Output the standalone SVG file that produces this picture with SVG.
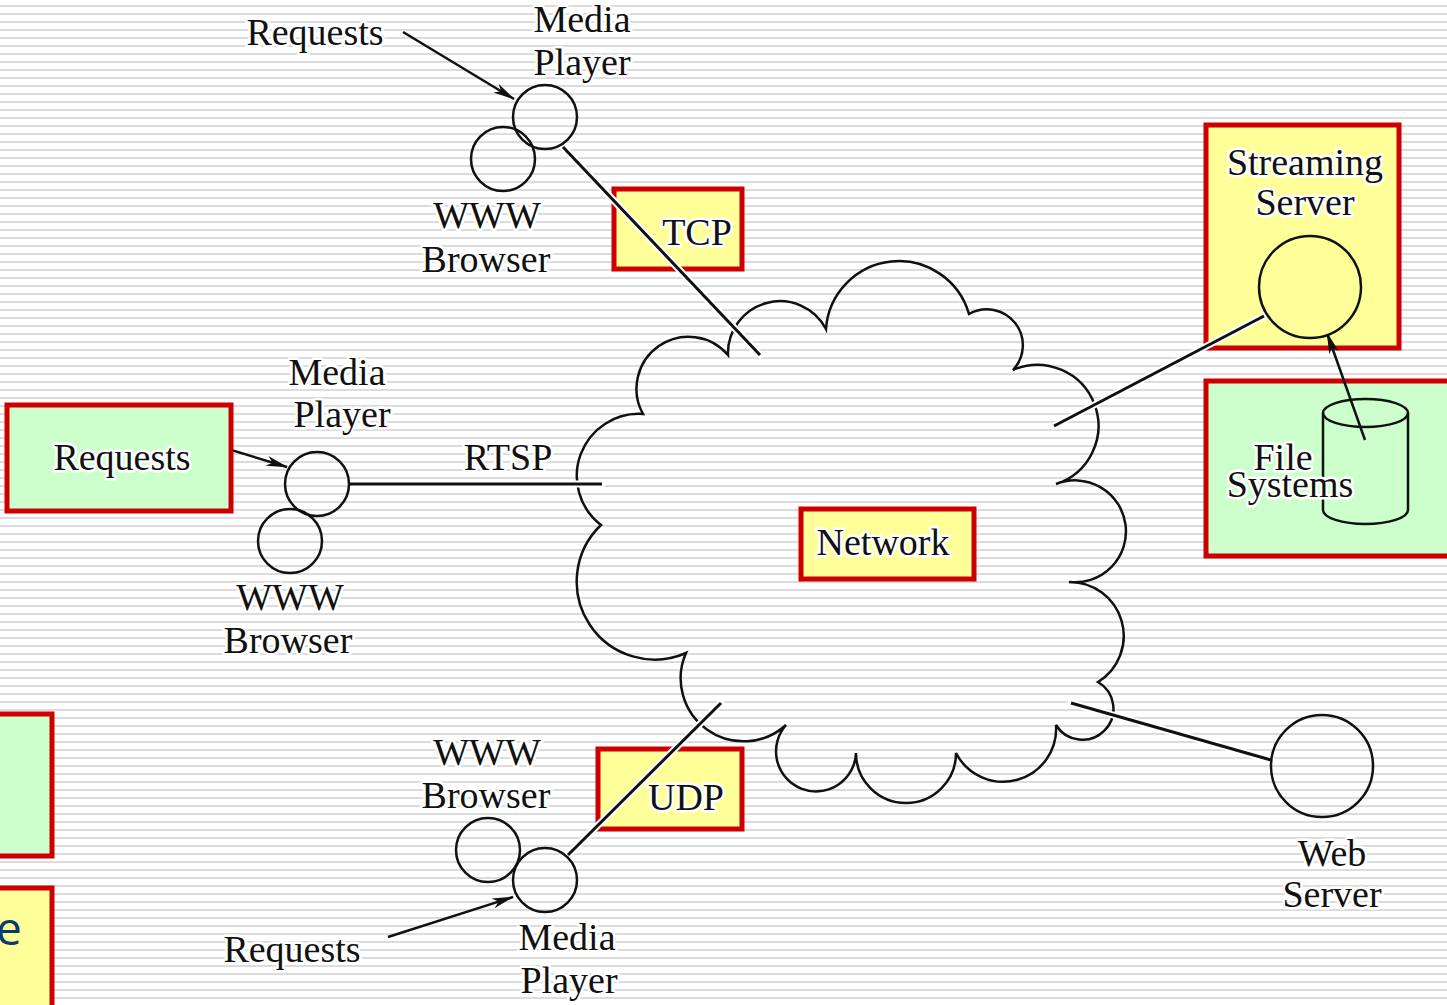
<svg xmlns="http://www.w3.org/2000/svg" width="1447" height="1005" viewBox="0 0 1447 1005">
  <defs>
    <pattern id="stripes" width="8" height="8" patternUnits="userSpaceOnUse">
      <rect width="8" height="8" fill="#ffffff"/>
      <rect y="5" width="8" height="2" fill="#dcdcdc"/>
    </pattern>
    <marker id="arrow" markerUnits="userSpaceOnUse" markerWidth="24" markerHeight="12" refX="21" refY="5" orient="auto">
      <path d="M0,0 L22,5 L0,10 L6,5 z" fill="#111"/>
    </marker>
    <style>
      text { font-family: "Liberation Serif", "Times New Roman", serif; font-size: 38px; fill: #111; text-anchor: middle; stroke: #fff; stroke-width: 5px; paint-order: stroke; stroke-linejoin: round; }
      .box-y { fill: #ffff99; stroke: #cc0000; stroke-width: 5; }
      .box-g { fill: #ccffcc; stroke: #cc0000; stroke-width: 5; }
      .node { fill: none; stroke: #111; stroke-width: 2.5; }
      .halo { fill: none; stroke: #fff; stroke-width: 7; stroke-linecap: round; }
      .link { fill: none; stroke: #111; stroke-width: 3; }
      .req { fill: none; stroke: #111; stroke-width: 2.5; marker-end: url(#arrow); }
      .slide { font-family: "Open Sans", "Liberation Sans", sans-serif; font-size: 46px; fill: #0b3a6e; stroke: none; text-anchor: start; }
    </style>
  </defs>

  <!-- striped page background -->
  <rect width="1447" height="1005" fill="url(#stripes)"/>

  <!-- clipped side boxes at the left edge -->
  <g id="side-green">
    <rect class="box-g" x="-10" y="714" width="62" height="142"/>
  </g>
  <g id="side-yellow">
    <rect class="box-y" x="-10" y="888" width="62" height="130"/>
    <text class="slide" x="-4" y="945">e</text>
  </g>

  <!-- network cloud -->
  <g id="network">
    <path class="node" stroke-width="2.2" d="M728,355 A52,52 0 0 1 826,329 A73,73 0 0 1 969,314 A36,36 0 0 1 1013,370 A61,61 0 1 1 1056,484 A51,51 0 1 1 1069,582 A54,54 0 0 1 1098,682 A31,31 0 1 1 1056,725 A53,53 0 0 1 956,753 A50,50 0 1 1 856,753 A40,40 0 1 1 786,725 A63,63 0 0 1 686,653 A78,78 0 0 1 601,525 A62,62 0 0 1 643,414 A52,52 0 0 1 728,355 Z"/>
    <rect class="box-y" x="801" y="509" width="173" height="70"/>
    <text x="883" y="555">Network</text>
  </g>

  <!-- protocol labels -->
  <g id="tcp">
    <rect class="box-y" x="614" y="189" width="128" height="80"/>
    <text x="697" y="245">TCP</text>
  </g>
  <g id="udp">
    <rect class="box-y" x="598" y="749" width="144" height="80"/>
    <text x="686" y="810">UDP</text>
  </g>
  <g id="rtsp">
    <text x="508" y="470">RTSP</text>
  </g>

  <!-- streaming server and file store -->
  <g id="streaming-server">
    <rect class="box-y" x="1206" y="125" width="193" height="223"/>
    <text x="1305" y="175">Streaming</text>
    <text x="1305" y="215">Server</text>
  </g>
  <g id="file-systems">
    <rect class="box-g" x="1206" y="381" width="250" height="175"/>
    <path class="node" d="M1323,413 L1323,510 A42.5,14 0 0 0 1408,510 L1408,413"/>
    <ellipse class="node" cx="1365.5" cy="413" rx="42.5" ry="14"/>
    <text x="1283" y="470">File</text>
    <text x="1290" y="497">Systems</text>
  </g>

  <!-- connectors -->
  <g id="connectors">
    <line class="halo" x1="563" y1="147" x2="760" y2="355"/>
    <line class="link" x1="563" y1="147" x2="760" y2="355"/>
    <line class="halo" x1="350" y1="484" x2="602" y2="484"/>
    <line class="link" x1="350" y1="484" x2="602" y2="484"/>
    <line class="halo" x1="568" y1="855" x2="721" y2="703"/>
    <line class="link" x1="568" y1="855" x2="721" y2="703"/>
    <line class="halo" x1="1054" y1="426" x2="1264" y2="316"/>
    <line class="link" x1="1054" y1="426" x2="1264" y2="316"/>
    <line class="halo" x1="1071" y1="703" x2="1271" y2="760"/>
    <line class="link" x1="1071" y1="703" x2="1271" y2="760"/>
    <line class="req" x1="403" y1="32" x2="514" y2="99"/>
    <line class="req" x1="205" y1="442" x2="287" y2="467"/>
    <line class="req" x1="388" y1="937" x2="513" y2="897"/>
    <line class="req" x1="1365" y1="440" x2="1327" y2="333"/>
  </g>

  <!-- streaming server disc drawn over its link -->
  <g id="streaming-disc">
    <circle cx="1310" cy="287" r="51" fill="#ffff99" stroke="#111" stroke-width="2.5"/>
  </g>

  <!-- top client -->
  <g id="client-top">
    <text x="315" y="45">Requests</text>
    <circle class="node" cx="503" cy="159" r="32"/>
    <circle class="node" cx="545" cy="117" r="32"/>
    <text x="582" y="32">Media</text>
    <text x="582" y="75">Player</text>
    <text x="487" y="228">WWW</text>
    <text x="486" y="272">Browser</text>
  </g>

  <!-- left client -->
  <g id="client-left">
    <rect class="box-g" x="7" y="405" width="224" height="106"/>
    <text x="122" y="470">Requests</text>
    <circle class="node" cx="290" cy="541" r="32"/>
    <circle class="node" cx="317" cy="484" r="32"/>
    <text x="337" y="385">Media</text>
    <text x="342" y="427">Player</text>
    <text x="290" y="610">WWW</text>
    <text x="288" y="653">Browser</text>
  </g>

  <!-- bottom client -->
  <g id="client-bottom">
    <text x="292" y="962">Requests</text>
    <circle class="node" cx="488" cy="850" r="32"/>
    <circle class="node" cx="545" cy="880" r="32"/>
    <text x="487" y="765">WWW</text>
    <text x="486" y="808">Browser</text>
    <text x="567" y="950">Media</text>
    <text x="569" y="993">Player</text>
  </g>

  <!-- web server -->
  <g id="web-server">
    <circle class="node" cx="1322" cy="766" r="51"/>
    <text x="1332" y="866">Web</text>
    <text x="1332" y="907">Server</text>
  </g>
</svg>
